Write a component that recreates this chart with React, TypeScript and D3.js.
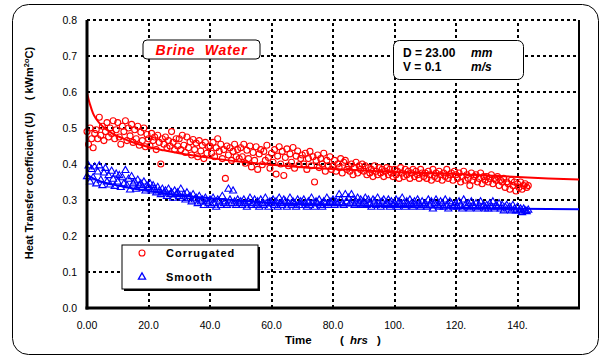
import React from 'react';
import * as d3 from 'd3';

// sampling: one reading every half hour, t = 0 .. 143.5 hrs
const STEP = 0.5;

const corrugated = [
  0.490, 0.455, 0.500, 0.470, 0.445, 0.485, 0.495, 0.470, 0.530, 0.480,
  0.505, 0.465, 0.490, 0.515, 0.475, 0.500, 0.485, 0.520, 0.470, 0.495,
  0.515, 0.475, 0.455, 0.505, 0.490, 0.520, 0.465, 0.500, 0.478, 0.510,
  0.460, 0.495, 0.470, 0.505, 0.452, 0.488, 0.465, 0.500, 0.448, 0.482,
  0.470, 0.450, 0.485, 0.465, 0.475, 0.440, 0.480, 0.460, 0.400, 0.470,
  0.455, 0.475, 0.445, 0.465, 0.450, 0.490, 0.460, 0.440, 0.470, 0.450,
  0.470, 0.440, 0.480, 0.452, 0.432, 0.475, 0.445, 0.462, 0.425, 0.468,
  0.440, 0.458, 0.420, 0.465, 0.436, 0.452, 0.415, 0.460, 0.430, 0.448,
  0.450, 0.430, 0.460, 0.420, 0.445, 0.470, 0.435, 0.455, 0.415, 0.440,
  0.360, 0.450, 0.425, 0.445, 0.410, 0.435, 0.455, 0.420, 0.440, 0.415,
  0.445, 0.420, 0.455, 0.402, 0.438, 0.415, 0.450, 0.392, 0.432, 0.410,
  0.448, 0.385, 0.428, 0.440, 0.398, 0.435, 0.410, 0.452, 0.418, 0.388,
  0.430, 0.405, 0.440, 0.372, 0.422, 0.448, 0.400, 0.435, 0.368, 0.418,
  0.442, 0.395, 0.428, 0.405, 0.446, 0.388, 0.422, 0.436, 0.398, 0.415,
  0.425, 0.400, 0.430, 0.385, 0.415, 0.435, 0.395, 0.420, 0.350, 0.410,
  0.425, 0.390, 0.415, 0.400, 0.430, 0.380, 0.410, 0.395, 0.420, 0.385,
  0.395, 0.410, 0.380, 0.400, 0.390, 0.415, 0.375, 0.405, 0.410, 0.385,
  0.395, 0.380, 0.400, 0.370, 0.390, 0.405, 0.375, 0.395, 0.385, 0.400,
  0.380, 0.395, 0.370, 0.390, 0.375, 0.385, 0.365, 0.395, 0.380, 0.370,
  0.390, 0.375, 0.385, 0.365, 0.380, 0.390, 0.370, 0.385, 0.375, 0.365,
  0.385, 0.370, 0.380, 0.360, 0.390, 0.375, 0.365, 0.385, 0.370, 0.380,
  0.360, 0.375, 0.385, 0.365, 0.380, 0.370, 0.360, 0.385, 0.375, 0.365,
  0.375, 0.360, 0.380, 0.370, 0.355, 0.385, 0.365, 0.375, 0.360, 0.380,
  0.370, 0.355, 0.375, 0.365, 0.385, 0.360, 0.370, 0.375, 0.355, 0.380,
  0.370, 0.360, 0.375, 0.350, 0.365, 0.380, 0.355, 0.370, 0.360, 0.340,
  0.375, 0.355, 0.365, 0.370, 0.350, 0.360, 0.375, 0.345, 0.365, 0.355,
  0.365, 0.350, 0.360, 0.370, 0.345, 0.360, 0.355, 0.365, 0.340, 0.355,
  0.350, 0.360, 0.335, 0.350, 0.345, 0.330, 0.355, 0.340, 0.350, 0.325,
  0.345, 0.335, 0.350, 0.330, 0.340, 0.345, 0.335, 0.340,
];

const smooth = [
  0.365, 0.395, 0.350, 0.385, 0.362, 0.392, 0.345, 0.378, 0.395, 0.355,
  0.340, 0.375, 0.388, 0.350, 0.368, 0.342, 0.380, 0.358, 0.338, 0.372,
  0.350, 0.368, 0.335, 0.362, 0.345, 0.382, 0.340, 0.358, 0.328, 0.365,
  0.345, 0.350, 0.330, 0.355, 0.340, 0.345, 0.335, 0.350, 0.325, 0.340,
  0.335, 0.345, 0.325, 0.340, 0.330, 0.320, 0.335, 0.325, 0.315, 0.330,
  0.320, 0.325, 0.310, 0.330, 0.315, 0.320, 0.305, 0.325, 0.315, 0.320,
  0.310, 0.330, 0.305, 0.315, 0.300, 0.320, 0.305, 0.310, 0.295, 0.315,
  0.300, 0.305, 0.290, 0.310, 0.295, 0.300, 0.285, 0.305, 0.295, 0.290,
  0.300, 0.285, 0.305, 0.290, 0.280, 0.300, 0.295, 0.285, 0.310, 0.290,
  0.295, 0.285, 0.330, 0.300, 0.290, 0.325, 0.295, 0.285, 0.300, 0.290,
  0.295, 0.285, 0.300, 0.290, 0.280, 0.295, 0.305, 0.285, 0.290, 0.300,
  0.285, 0.295, 0.280, 0.300, 0.290, 0.285, 0.305, 0.290, 0.280, 0.295,
  0.290, 0.300, 0.285, 0.295, 0.280, 0.305, 0.290, 0.285, 0.300, 0.295,
  0.280, 0.290, 0.305, 0.285, 0.295, 0.290, 0.280, 0.300, 0.285, 0.295,
  0.285, 0.300, 0.290, 0.280, 0.295, 0.285, 0.305, 0.290, 0.280, 0.295,
  0.290, 0.300, 0.285, 0.280, 0.295, 0.290, 0.305, 0.285, 0.295, 0.290,
  0.300, 0.285, 0.295, 0.290, 0.315, 0.300, 0.290, 0.285, 0.315, 0.295,
  0.305, 0.290, 0.315, 0.300, 0.285, 0.295, 0.305, 0.290, 0.300, 0.285,
  0.295, 0.305, 0.285, 0.300, 0.290, 0.280, 0.300, 0.295, 0.285, 0.305,
  0.290, 0.280, 0.295, 0.300, 0.285, 0.290, 0.300, 0.280, 0.295, 0.285,
  0.290, 0.300, 0.280, 0.295, 0.285, 0.305, 0.290, 0.280, 0.295, 0.285,
  0.300, 0.290, 0.280, 0.295, 0.285, 0.300, 0.290, 0.280, 0.295, 0.285,
  0.290, 0.280, 0.300, 0.285, 0.295, 0.275, 0.290, 0.300, 0.285, 0.280,
  0.295, 0.290, 0.280, 0.300, 0.285, 0.275, 0.295, 0.290, 0.280, 0.285,
  0.290, 0.280, 0.295, 0.285, 0.275, 0.300, 0.285, 0.280, 0.290, 0.275,
  0.295, 0.285, 0.280, 0.290, 0.275, 0.285, 0.295, 0.280, 0.285, 0.275,
  0.285, 0.275, 0.290, 0.280, 0.295, 0.275, 0.285, 0.280, 0.290, 0.275,
  0.285, 0.270, 0.280, 0.285, 0.275, 0.280, 0.270, 0.285, 0.275, 0.270,
  0.280, 0.270, 0.275, 0.265, 0.275, 0.270, 0.268, 0.272,
];

// fitted trend lines
const corrFitT = [0, 0.5, 1, 2, 3, 5, 8, 12, 16, 20, 25, 30, 40, 50, 60, 70, 80, 90, 100, 110, 120, 130, 140, 150, 160];
const corrFitU = [0.600, 0.580, 0.565, 0.540, 0.525, 0.505, 0.486, 0.470, 0.457, 0.447, 0.438, 0.430, 0.417, 0.406, 0.398, 0.391, 0.386, 0.382, 0.378, 0.375, 0.372, 0.368, 0.364, 0.360, 0.357];
const smoothFitT = [0, 1, 2, 5, 10, 15, 20, 30, 40, 50, 60, 80, 100, 120, 140, 160];
const smoothFitU = [0.370, 0.365, 0.360, 0.350, 0.340, 0.332, 0.325, 0.313, 0.305, 0.298, 0.292, 0.286, 0.281, 0.278, 0.276, 0.274];

const xTicks = [0, 20, 40, 60, 80, 100, 120, 140, 160];
const xTickLabels = ['0.00', '20.0', '40.0', '60.0', '80.0', '100.', '120.', '140.', ''];
const yTicks = [0, 0.1, 0.2, 0.3, 0.4, 0.5, 0.6, 0.7, 0.8];

const RED = '#ff0000';
const BLUE = '#0000ff';
const FONT = 'Arial, "Liberation Sans", sans-serif';

const App = () => {
  const x = d3.scaleLinear().domain([0, 160]).range([87, 579]);
  const y = d3.scaleLinear().domain([0, 0.8]).range([308, 20]);

  const line = d3.line<[number, number]>()
    .x(d => x(d[0]))
    .y(d => y(d[1]))
    .curve(d3.curveMonotoneX);

  const corrFit = corrFitT.map((t, i) => [t, corrFitU[i]] as [number, number]);
  const smoothFit = smoothFitT.map((t, i) => [t, smoothFitU[i]] as [number, number]);
  const tri = d3.symbol().type(d3.symbolTriangle).size(22)() as string;

  const grid = { stroke: '#000', strokeWidth: 2, strokeDasharray: '3,3' };

  return (
    <svg width={602} height={358} style={{ position: 'absolute', left: 0, top: 0 }} fontFamily={FONT}>
      <rect x={0} y={0} width={602} height={358} fill="#fff" />
      <rect x={12.5} y={4.5} width={586} height={350} rx={16} fill="#fff" stroke="#000" strokeWidth={1} />

      {/* grid */}
      {yTicks.slice(1).map(v => (
        <line key={'gy' + v} x1={x(0)} x2={x(160)} y1={y(v)} y2={y(v)} {...grid} />
      ))}
      {xTicks.slice(1, -1).map(v => (
        <line key={'gx' + v} x1={Math.round(x(v))} x2={Math.round(x(v))} y1={y(0)} y2={y(0.8)} {...grid} />
      ))}
      <line x1={x(160)} x2={x(160)} y1={y(0)} y2={y(0.8)} stroke="#000" strokeWidth={2} />

      {/* fit lines */}
      <path d={line(smoothFit) || ''} fill="none" stroke={BLUE} strokeWidth={2} />
      <path d={line(corrFit) || ''} fill="none" stroke={RED} strokeWidth={2} />

      {/* data */}
      {smooth.map((v, i) => (
        <path key={'s' + i} d={tri} transform={`translate(${x(i * STEP)},${y(v)})`} fill="none" stroke={BLUE} strokeWidth={1.1} />
      ))}
      {corrugated.map((v, i) => (
        <circle key={'c' + i} cx={x(i * STEP)} cy={y(v)} r={3} fill="none" stroke={RED} strokeWidth={1.1} />
      ))}

      {/* axes */}
      <line x1={x(0)} x2={x(0)} y1={y(0.8)} y2={y(0) + 1.5} stroke="#000" strokeWidth={3} />
      <line x1={x(0) - 1.5} x2={x(160) + 1} y1={y(0)} y2={y(0)} stroke="#000" strokeWidth={3} />

      {yTicks.map(v => (
        <text key={'ty' + v} x={77} y={y(v)} dy="0.35em" textAnchor="end" fontSize={10.5}>{v.toFixed(1)}</text>
      ))}
      {xTicks.map((v, i) => (
        <text key={'tx' + v} x={x(v)} y={329} textAnchor="middle" fontSize={10.5}>{xTickLabels[i]}</text>
      ))}

      <text y={344} fontSize={11.5} fontWeight="bold">
        <tspan x={285}>Time</tspan>
        <tspan x={340}>(</tspan>
        <tspan x={350} fontStyle="italic">hrs</tspan>
        <tspan x={377}>)</tspan>
      </text>

      <text transform="translate(33,153) rotate(-90)" textAnchor="middle" fontSize={11} fontWeight="bold" xmlSpace="preserve">
        {'Heat Transfer coefficient (U)    ( kWm'}
        <tspan dy={-4} fontSize={7.5}>2</tspan>
        <tspan dy={0} fontSize={7.5}>o</tspan>
        <tspan dy={4}>C)</tspan>
      </text>

      {/* title box */}
      <rect x={143} y={40} width={117} height={19} rx={4} fill="#fff" stroke="#000" strokeWidth={1} />
      <text x={201.5} y={55} textAnchor="middle" fill={RED} fontSize={14} fontWeight="bold" fontStyle="italic" letterSpacing={0.8} xmlSpace="preserve">Brine  Water</text>

      {/* condition box */}
      <rect x={393.5} y={40.5} width={130} height={39} rx={6} fill="#fff" stroke="#000" strokeWidth={1} />
      <text fontSize={12} fontWeight="bold">
        <tspan x={403} y={57}>D = 23.00</tspan>
        <tspan x={471} y={57} fontStyle="italic">mm</tspan>
        <tspan x={403} y={71}>V = 0.1</tspan>
        <tspan x={471} y={71} fontStyle="italic">m/s</tspan>
      </text>

      {/* legend */}
      <rect x={124} y={247} width={136} height={44} fill="#000" />
      <rect x={122} y={245} width={136} height={44} fill="#fff" stroke="#000" strokeWidth={1} />
      <circle cx={142} cy={253} r={3} fill="none" stroke={RED} strokeWidth={1.1} />
      <path d={tri} transform="translate(142,277)" fill="none" stroke={BLUE} strokeWidth={1.3} />
      <text x={166} y={257} fontSize={11} fontWeight="bold" letterSpacing={1}>Corrugated</text>
      <text x={166} y={281} fontSize={11} fontWeight="bold" letterSpacing={1}>Smooth</text>
    </svg>
  );
};

export default App;
